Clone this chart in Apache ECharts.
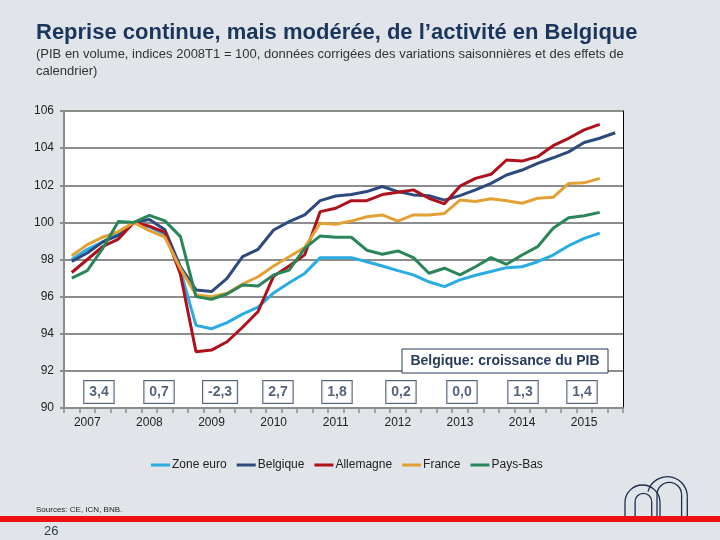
<!DOCTYPE html>
<html><head><meta charset="utf-8">
<script src="https://cdn.jsdelivr.net/npm/echarts@6/dist/echarts.min.js"></script>
<style>html,body{margin:0;padding:0;background:#E1E4E9}#c{width:720px;height:540px}</style>
</head><body><div id="c"></div>
<script>
// ---- data ----
const quarters = ['2007T1','2007T2','2007T3','2007T4','2008T1','2008T2','2008T3','2008T4',
  '2009T1','2009T2','2009T3','2009T4','2010T1','2010T2','2010T3','2010T4',
  '2011T1','2011T2','2011T3','2011T4','2012T1','2012T2','2012T3','2012T4',
  '2013T1','2013T2','2013T3','2013T4','2014T1','2014T2','2014T3','2014T4',
  '2015T1','2015T2','2015T3','2015T4'];
const yearLabels = ['2007','2008','2009','2010','2011','2012','2013','2014','2015'];
const seriesNames = ['Zone euro','Belgique','Allemagne','France','Pays-Bas'];
const zoneEuro = [98.0,98.55,98.95,99.4,100,99.75,99.35,97.4,94.45,94.27,94.6,95.06,95.44,96.2,96.75,97.25,98.1,98.1,98.1,97.88,97.65,97.4,97.17,96.8,96.54,96.9,97.15,97.35,97.56,97.61,97.88,98.24,98.74,99.14,99.42];
const belgique = [97.9,98.35,98.95,99.3,100,100.15,99.6,97.6,96.36,96.27,96.98,98.15,98.55,99.59,100.04,100.4,101.17,101.42,101.5,101.66,101.93,101.66,101.48,101.44,101.2,101.44,101.75,102.1,102.55,102.82,103.18,103.48,103.8,104.3,104.53,104.83];
const allemagne = [97.3,98.0,98.7,99.1,100,99.8,99.46,97.2,93.03,93.12,93.57,94.35,95.2,97.1,97.65,98.25,100.58,100.76,101.17,101.17,101.5,101.62,101.75,101.3,101.0,101.95,102.37,102.59,103.36,103.3,103.54,104.13,104.53,104.98,105.28];
const france = [98.2,98.8,99.2,99.5,100,99.55,99.2,97.5,96.1,96.0,96.18,96.68,97.07,97.65,98.15,98.65,99.95,99.9,100.07,100.3,100.4,100.07,100.4,100.4,100.48,101.2,101.13,101.27,101.16,101.03,101.3,101.35,102.1,102.13,102.37];
const paysBas = [97.0,97.4,98.6,100.05,100.0,100.38,100.08,99.23,96.0,95.86,96.14,96.63,96.57,97.17,97.43,98.6,99.27,99.2,99.2,98.5,98.28,98.46,98.1,97.26,97.53,97.17,97.61,98.1,97.74,98.24,98.69,99.68,100.25,100.36,100.54];
const growthLabels = ['3,4','0,7','-2,3','2,7','1,8','0,2','0,0','1,3','1,4'];
const yMin = 90, yMax = 106, yStep = 2;

// ---- layout (annotation placement, in axis units) ----
const growthBoxX = [2.25, 6.12, 10.05, 13.78, 17.58, 21.7, 25.63, 29.56, 33.36];
const growthBoxY = 90.86;

const colors = ['#29ACE3','#2C4A7E','#AE111C','#E1A135','#2A8659'];
const FONT = "'Liberation Sans', Arial, sans-serif";
const NAVY = '#283C5C';
const LOGO = '#1E2D4A';

const valueSeries = [zoneEuro, belgique, allemagne, france, paysBas];
const lineSeries = valueSeries.map((d, i) => ({
  name: seriesNames[i], type: 'line', data: d, symbol: 'none',
  lineStyle: { width: 3, color: colors[i] }, itemStyle: { color: colors[i] },
  xAxisIndex: 0, yAxisIndex: 0, z: 3, animation: false
}));

function arch(cx, cy, r, a0) {
  return { type: 'arc', shape: { cx: cx, cy: cy, r: r, startAngle: a0, endAngle: Math.PI * 2, clockwise: true },
    style: { fill: 'none', stroke: LOGO, lineWidth: 1.3 } };
}
function leg(x, y1, y2) {
  return { type: 'line', shape: { x1: x, y1: y1, x2: x, y2: y2 }, style: { stroke: LOGO, lineWidth: 1.3 } };
}

const chart = echarts.init(document.getElementById('c'), null, { renderer: 'canvas' });
chart.setOption({
  backgroundColor: '#E1E4E9',
  animation: false,
  textStyle: { fontFamily: FONT },
  grid: { left: 64, top: 111, width: 559, height: 297, show: true, backgroundColor: '#ffffff', borderWidth: 0 },
  legend: {
    data: seriesNames, left: 146, top: 454, icon: 'rect', itemWidth: 19, itemHeight: 3, itemGap: 10,
    textStyle: { color: '#222', fontSize: 12, fontFamily: FONT, padding: [0, 0, 0, -3] }
  },
  xAxis: [{
    type: 'category', data: quarters, boundaryGap: true,
    axisLine: { show: true, lineStyle: { color: '#8C8C8C', width: 2 } },
    axisTick: { show: true, interval: 0, length: 5, lineStyle: { color: '#8C8C8C', width: 1.5 } },
    axisLabel: { interval: function (idx) { return idx % 4 === 1; },
      formatter: function (v, idx) { return yearLabels[Math.floor(idx / 4)]; },
      color: '#222', fontSize: 12, margin: 9, fontFamily: FONT },
    splitLine: { show: false }
  }, {
    type: 'value', min: 0, max: 36, show: false
  }],
  yAxis: [{
    type: 'value', min: yMin, max: yMax, interval: yStep,
    axisLine: { show: true, lineStyle: { color: '#8C8C8C', width: 2 } },
    axisTick: { show: true, length: 4, lineStyle: { color: '#8C8C8C', width: 2 } },
    axisLabel: { color: '#222', fontSize: 12, margin: 10, fontFamily: FONT },
    splitLine: { show: true, lineStyle: { color: '#8C8C8C', width: 2 } }
  }, {
    type: 'value', min: yMin, max: yMax, interval: yStep, position: 'right',
    axisLine: { show: true, lineStyle: { color: '#000', width: 1 } },
    axisTick: { show: false }, axisLabel: { show: false }, splitLine: { show: false }
  }],
  series: lineSeries.concat([{
    name: 'croissance', type: 'scatter', xAxisIndex: 1, yAxisIndex: 0, z: 5,
    symbolSize: 1, itemStyle: { color: 'rgba(0,0,0,0)' },
    data: growthLabels.map(function (g, i) { return [growthBoxX[i], growthBoxY, g]; }),
    label: { show: true, position: 'inside', formatter: function (p) { return p.data[2]; },
      color: NAVY, fontSize: 14, fontWeight: 'bold', fontFamily: FONT,
      backgroundColor: '#fff', borderColor: NAVY, borderWidth: 1, padding: [4, 5, 4, 5] },
    silent: true
  }]),
  graphic: [
    { type: 'text', x: 36, y: 22, style: { text: 'Reprise continue, mais modérée, de l’activité en Belgique',
      font: "bold 22px 'Liberation Sans', Arial, sans-serif", fill: '#1B365D' } },
    { type: 'text', x: 36, y: 46, style: { text: '(PIB en volume, indices 2008T1 = 100, données corrigées des variations saisonnières et des effets de\ncalendrier)',
      font: "13px 'Liberation Sans', Arial, sans-serif", fill: '#333', lineHeight: 17 } },
    { type: 'rect', x: 402, y: 349, shape: { x: 0, y: 0, width: 206, height: 24 }, style: { fill: '#fff', stroke: NAVY, lineWidth: 1 }, z: 10 },
    { type: 'text', x: 505, y: 361, style: { text: 'Belgique: croissance du PIB', align: 'center', verticalAlign: 'middle',
        font: "bold 14px 'Liberation Sans', Arial, sans-serif", fill: NAVY }, z: 11 },
    { type: 'text', x: 36, y: 506, style: { text: 'Sources: CE, ICN, BNB.', font: "8px 'Liberation Sans', Arial, sans-serif", fill: '#222' } },
    { type: 'rect', x: 0, y: 516, shape: { x: 0, y: 0, width: 720, height: 6 }, style: { fill: '#EE1111' } },
    { type: 'text', x: 44, y: 525, style: { text: '26', font: "13px 'Liberation Sans', Arial, sans-serif", fill: '#2F3B4C' } },
    arch(642.5, 502.5, 17.5, Math.PI), leg(625, 502.5, 516), leg(660, 502.5, 516),
    arch(643.4, 501.7, 8.3, Math.PI), leg(635.1, 501.7, 516), leg(651.7, 501.7, 516),
    arch(667.3, 496.7, 20, Math.PI + 0.26), leg(687.3, 496.7, 516),
    arch(669.3, 494.7, 12.3, Math.PI), leg(657, 494.7, 516), leg(681.6, 494.7, 516)
  ]
});
</script></body></html>
